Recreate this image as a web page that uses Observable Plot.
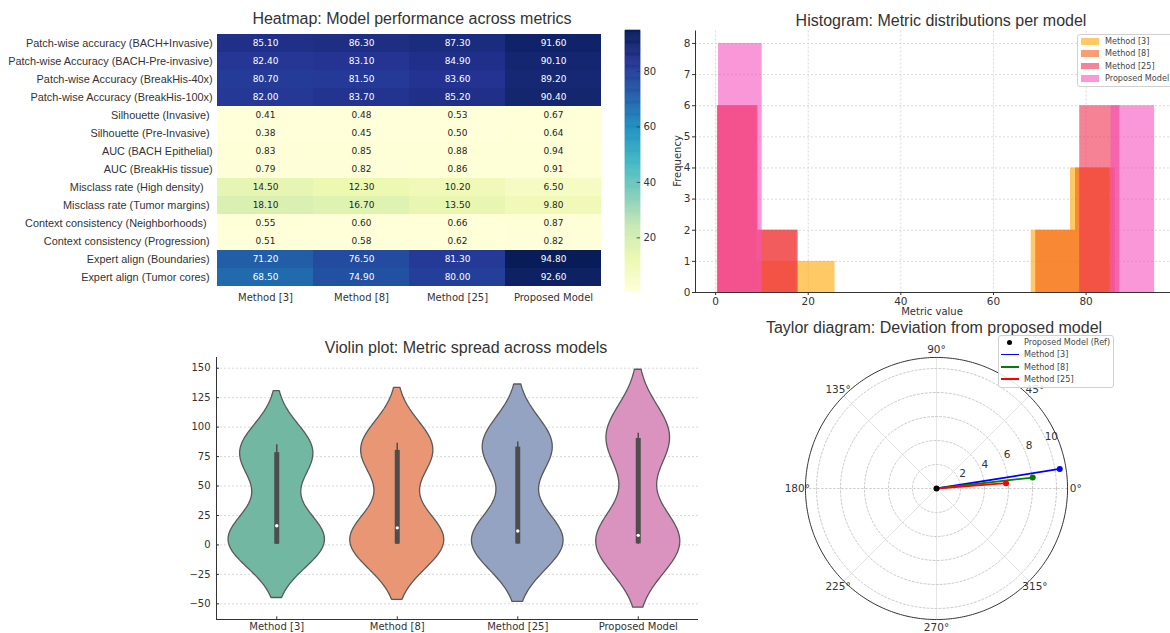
<!DOCTYPE html>
<html><head><meta charset="utf-8">
<script src="https://cdn.jsdelivr.net/npm/d3@7"></script>
<script src="https://cdn.jsdelivr.net/npm/@observablehq/plot@0.6"></script>
<style>
html,body{margin:0;padding:0;background:#fff;overflow:hidden;}
#root{position:relative;width:1170px;height:633px;overflow:hidden;font-family:"DejaVu Sans",sans-serif;}
.ttl{position:absolute;font-family:"Liberation Sans",Arial,sans-serif;font-size:16px;color:#333;white-space:nowrap;transform:translate(-50%,-50%);}
.lab{position:absolute;font-family:"DejaVu Sans",sans-serif;font-size:10px;color:#333;white-space:nowrap;transform:translate(-50%,-50%);}
svg text{white-space:pre;}
.legend{position:absolute;background:rgba(255,255,255,0.85);border:1px solid #d0d0d0;border-radius:3px;font-family:"DejaVu Sans",sans-serif;font-size:8.1px;color:#444;box-sizing:border-box;}
.row{position:relative;height:12.35px;line-height:12.35px;white-space:nowrap;}
.sw{position:absolute;}
.tx{position:absolute;}
</style></head><body><div id="root"></div>
<script>
// ---------------- data ----------------
const models = ["Method [3]", "Method [8]", "Method [25]", "Proposed Model"];
const metrics = [
  "Patch-wise accuracy (BACH+Invasive)",
  "Patch-wise Accuracy (BACH-Pre-invasive)",
  "Patch-wise Accuracy (BreakHis-40x)",
  "Patch-wise Accuracy (BreakHis-100x)",
  "Silhouette (Invasive) ",
  "Silhouette (Pre-Invasive) ",
  "AUC (BACH Epithelial)",
  "AUC (BreakHis tissue)",
  "Misclass rate (High density)   ",
  "Misclass rate (Tumor margins) ",
  "Context consistency (Neighborhoods)  ",
  "Context consistency (Progression) ",
  "Expert align (Boundaries) ",
  "Expert align (Tumor cores) "
];
const method3 = [85.10, 82.40, 80.70, 82.00, 0.41, 0.38, 0.83, 0.79, 14.50, 18.10, 0.55, 0.51, 71.20, 68.50];
const method8 = [86.30, 83.10, 81.50, 83.70, 0.48, 0.45, 0.85, 0.82, 12.30, 16.70, 0.60, 0.58, 76.50, 74.90];
const method25 = [87.30, 84.90, 83.60, 85.20, 0.53, 0.50, 0.88, 0.86, 10.20, 13.50, 0.66, 0.62, 81.30, 80.00];
const proposed = [91.60, 90.10, 89.20, 90.40, 0.67, 0.64, 0.94, 0.91, 6.50, 9.80, 0.87, 0.82, 94.80, 92.60];
const series = [method3, method8, method25, proposed];

const colorbarTicks = [20, 40, 60, 80];
const histXTicks = [0, 20, 40, 60, 80];
const histYTicks = [0, 1, 2, 3, 4, 5, 6, 7, 8];
const violinYTicks = [-50, -25, 0, 25, 50, 75, 100, 125, 150];

// Taylor diagram
const taylorMethods = ["Method [3]", "Method [8]", "Method [25]"];
const taylorR = [10.40, 8.07, 5.81];
const taylorThetaDeg = [9.0, 6.5, 4.35];
const taylorColors = ["#0000ff", "#008000", "#ff0000"];
const radialTicks = [2, 4, 6, 8, 10];
const angleTicks = [0, 45, 90, 135, 180, 225, 270, 315];

// styles
const ylgnbu = ["#ffffd9","#edf8b1","#c7e9b4","#7fcdbb","#41b6c4","#1d91c0","#225ea8","#253494","#081d58"];
const histColors = ["#FFA500", "#F55D14", "#EE304E", "#F552C0"];
const violinColors = ["#71b7a1", "#e99675", "#95a3c3", "#da93bf"];
const gridColor = "#cfcfcf";
const axisColor = "#333";

const root = document.getElementById("root");
function place(el, left, top) { el.style.position = "absolute"; el.style.left = left + "px"; el.style.top = top + "px"; root.appendChild(el); return el; }
function label(text, x, y, cls, rot) {
  const d = document.createElement("div"); d.className = cls; d.textContent = text;
  d.style.left = x + "px"; d.style.top = y + "px";
  if (rot) d.style.transform = "translate(-50%,-50%) rotate(" + rot + "deg)";
  root.appendChild(d); return d;
}
const baseStyle = {fontFamily: "DejaVu Sans", fontSize: "10px", color: axisColor, background: "transparent", overflow: "visible"};

// ---------------- heatmap ----------------
const cells = metrics.flatMap((m, r) => models.map((mod, c) => ({metric: m, model: mod, value: series[c][r]})));
const [vmin, vmax] = d3.extent(cells, d => d.value);
const stops = ylgnbu.map((_, i) => vmin + i * (vmax - vmin) / (ylgnbu.length - 1));
const colorOpts = {type: "linear", domain: stops, range: ylgnbu, interpolate: "rgb"};

const heat = Plot.plot({
  width: 606, height: 310,
  marginLeft: 215.7, marginRight: 4.3, marginTop: 29.3, marginBottom: 19.3,
  style: baseStyle,
  x: {domain: models, padding: 0, label: null, tickSize: 0, tickPadding: 3},
  y: {domain: metrics, padding: 0, label: null, tickSize: 0, tickPadding: 3.5},
  color: colorOpts,
  marks: [
    Plot.cell(cells, {x: "model", y: "metric", fill: "value", inset: 0}),
    Plot.text(cells.filter(d => d.value > 50), {x: "model", y: "metric", text: d => d.value.toFixed(2), fill: "white", fontSize: 9}),
    Plot.text(cells.filter(d => d.value <= 50), {x: "model", y: "metric", text: d => d.value.toFixed(2), fill: "#262626", fontSize: 9})
  ]
});
d3.select(heat).selectAll('[aria-label^="y-axis"] text')
  .style("font-family", '"Liberation Sans", Arial, sans-serif').style("font-size", "10.9px");
place(heat, 0, 0);

// colorbar
const nSl = 240;
const slices = d3.range(nSl).map(i => ({a: vmin + i * (vmax - vmin) / nSl, b: vmin + (i + 1) * (vmax - vmin) / nSl}));
const cbar = Plot.plot({
  width: 60, height: 310, marginLeft: 10, marginRight: 35, marginTop: 30, marginBottom: 18.3,
  style: baseStyle,
  x: {domain: [0, 1], axis: null},
  y: {domain: [vmin, vmax], axis: "right", ticks: colorbarTicks, tickSize: 0, tickPadding: 3, label: null},
  color: colorOpts,
  marks: [
    Plot.rect(slices, {x1: 0, x2: 1, y1: "a", y2: "b", fill: d => (d.a + d.b) / 2, stroke: d => (d.a + d.b) / 2, strokeWidth: 0.6, inset: 0}),
    Plot.ruleY(colorbarTicks, {x1: 0.78, x2: 1, stroke: axisColor, strokeWidth: 0.8})
  ]
});
place(cbar, 615, 0);
label("Heatmap: Model performance across metrics", 412, 18.5, "ttl");

// ---------------- histogram ----------------
const histXDomain = [-4.34, 99.52];
const histMarks = [
  Plot.ruleX(histXTicks, {stroke: gridColor, strokeDasharray: "2,2", strokeWidth: 0.8}),
  Plot.ruleY(histYTicks, {stroke: gridColor, strokeDasharray: "2,2", strokeWidth: 0.8})
];
series.forEach((vals, k) => {
  const [lo, hi] = d3.extent(vals);
  const th = d3.range(1, 10).map(i => lo + i * (hi - lo) / 10);
  const bins = d3.bin().domain([lo, hi]).thresholds(th)(vals);
  histMarks.push(Plot.rect(bins, {x1: b => b.x0, x2: b => b.x1, y1: 0, y2: b => b.length, fill: histColors[k], fillOpacity: 0.6, inset: 0}));
});
histMarks.push(Plot.ruleY([0], {stroke: axisColor, strokeWidth: 1}));
histMarks.push(Plot.ruleX([histXDomain[0]], {stroke: axisColor, strokeWidth: 1}));
const hist = Plot.plot({
  width: 516, height: 320, marginLeft: 35, marginRight: 0, marginTop: 30.5, marginBottom: 28,
  style: {...baseStyle, fontSize: "10.5px"},
  x: {domain: histXDomain, ticks: histXTicks, label: null, tickSize: 3, tickPadding: 2},
  y: {domain: [0, 8.4], ticks: histYTicks, label: null, tickSize: 3, tickPadding: 2},
  marks: histMarks
});
place(hist, 660, 0);
label("Histogram: Metric distributions per model", 941, 20.7, "ttl");
label("Metric value", 932, 311, "lab");
label("Frequency", 677, 161, "lab", -90);

// histogram legend
(function () {
  const lg = document.createElement("div"); lg.className = "legend";
  lg.style.left = "1077px"; lg.style.top = "34px"; lg.style.width = "110px"; lg.style.height = "53px";
  models.forEach((m, k) => {
    const r = document.createElement("div"); r.className = "row";
    const sw = document.createElement("div"); sw.className = "sw";
    sw.style.left = "3px"; sw.style.top = "3px"; sw.style.width = "18px"; sw.style.height = "6.5px";
    sw.style.background = histColors[k]; sw.style.opacity = 0.6;
    const t = document.createElement("div"); t.className = "tx"; t.style.left = "27px"; t.textContent = m;
    r.appendChild(sw); r.appendChild(t); lg.appendChild(r);
  });
  root.appendChild(lg);
})();

// ---------------- violin ----------------
function kde(vals) {
  const n = vals.length, sd = d3.deviation(vals);
  const bw = Math.pow(n, -1 / 5) * sd;
  const lo = d3.min(vals) - 2 * bw, hi = d3.max(vals) + 2 * bw;
  return d3.range(100).map(i => {
    const y = lo + i * (hi - lo) / 99;
    const d = d3.mean(vals, v => Math.exp(-0.5 * ((y - v) / bw) ** 2)) / (bw * Math.sqrt(2 * Math.PI));
    return {y, d};
  });
}
const kdes = series.map(kde);
const maxD = d3.max(kdes, k => d3.max(k, p => p.d));
const kScale = 0.4 / maxD;
const violinPts = kdes.flatMap((k, i) => k.map(p => ({model: models[i], y: p.y, xl: i - p.d * kScale, xr: i + p.d * kScale})));
const boxStats = series.map((vals, i) => {
  const s = [...vals].sort(d3.ascending);
  return {i, min: s[0], max: s[s.length - 1], q1: d3.quantileSorted(s, 0.25), q3: d3.quantileSorted(s, 0.75), med: d3.quantileSorted(s, 0.5)};
});
const vio = Plot.plot({
  width: 560, height: 293, marginLeft: 66, marginRight: 12, marginTop: 17, marginBottom: 14,
  style: {...baseStyle, fontSize: "10px"},
  x: {domain: [-0.5, 3.5], ticks: [0, 1, 2, 3], tickFormat: i => models[i], tickSize: 0, tickPadding: 3, label: null},
  y: {domain: [-63.3, 159.1], ticks: violinYTicks, tickFormat: d3.format("d"), tickSize: 0, tickPadding: 6, label: null},
  color: {domain: models, range: violinColors},
  marks: [
    Plot.ruleY(violinYTicks, {stroke: gridColor, strokeDasharray: "2,2", strokeWidth: 0.8}),
    Plot.areaX(violinPts, {y: "y", x1: "xl", x2: "xr", z: "model", fill: "model", stroke: "#595959", strokeWidth: 1.3}),
    Plot.ruleX(boxStats, {x: "i", y1: "min", y2: "max", stroke: "#4d4d4d", strokeWidth: 1.5}),
    Plot.ruleX(boxStats, {x: "i", y1: "q1", y2: "q3", stroke: "#4d4d4d", strokeWidth: 5}),
    Plot.dot(boxStats, {x: "i", y: "med", fill: "white", r: 1.7}),
    Plot.ruleX([-0.5], {stroke: axisColor, strokeWidth: 1}),
    Plot.ruleY([-63.3], {stroke: axisColor, strokeWidth: 1}),
    Plot.ruleY(violinYTicks, {x1: -0.5, x2: -0.475, stroke: axisColor}),
    Plot.ruleX([0, 1, 2, 3], {y1: -63.3, y2: -61, stroke: axisColor})
  ]
});
place(vio, 150, 340);
label("Violin plot: Metric spread across models", 466, 348, "ttl");

// ---------------- Taylor (polar) ----------------
const rmax = 10.92;
const rad = a => a * Math.PI / 180;
const circlePts = radialTicks.flatMap(r => d3.range(0, 361, 2).map(a => ({r, x: r * Math.cos(rad(a)), y: r * Math.sin(rad(a))})));
const outerPts = d3.range(0, 361, 1).map(a => ({x: rmax * Math.cos(rad(a)), y: rmax * Math.sin(rad(a))}));
const taylorPts = taylorMethods.map((m, i) => ({m, c: taylorColors[i], x: taylorR[i] * Math.cos(rad(taylorThetaDeg[i])), y: taylorR[i] * Math.sin(rad(taylorThetaDeg[i]))}));
const tay = Plot.plot({
  width: 312, height: 312, margin: 0,
  style: {...baseStyle, fontSize: "10.5px"},
  x: {domain: [-13, 13], axis: null},
  y: {domain: [-13, 13], axis: null},
  marks: [
    Plot.link(angleTicks.filter(a => a % 180 !== 0), {x1: 0, y1: 0, x2: a => rmax * Math.cos(rad(a)), y2: a => rmax * Math.sin(rad(a)), stroke: "#e2e2e2", strokeWidth: 0.9}),
    Plot.link([0], {x1: -rmax, y1: 0, x2: rmax, y2: 0, stroke: "#bdbdbd", strokeDasharray: "2,2", strokeWidth: 0.9}),
    Plot.line(circlePts, {x: "x", y: "y", z: "r", stroke: "#c4c4c4", strokeDasharray: "2,2", strokeWidth: 0.9}),
    Plot.line(outerPts, {x: "x", y: "y", stroke: "#333", strokeWidth: 1}),
    Plot.text(radialTicks, {x: r => r * Math.cos(rad(22.5)), y: r => r * Math.sin(rad(22.5)), text: r => String(r), dx: 4, dy: -6, fill: axisColor}),
    Plot.text(angleTicks, {x: a => 11.6 * Math.cos(rad(a)), y: a => 11.6 * Math.sin(rad(a)), text: a => a + "°", fill: axisColor}),
    Plot.link(taylorPts, {x1: 0, y1: 0, x2: "x", y2: "y", stroke: "c", strokeWidth: 1.8}),
    Plot.dot(taylorPts, {x: "x", y: "y", fill: "c", r: 3}),
    Plot.dot([0], {x: 0, y: 0, fill: "black", r: 3})
  ]
});
place(tay, 935.7 - 156, 488.3 - 156);
label("Taylor diagram: Deviation from proposed model", 934, 328.3, "ttl");

// Taylor legend
(function () {
  const lg = document.createElement("div"); lg.className = "legend";
  lg.style.left = "998px"; lg.style.top = "335px"; lg.style.width = "116px"; lg.style.height = "52.5px";
  const items = [{t: "Proposed Model (Ref)", c: "black", dot: true}].concat(taylorMethods.map((m, i) => ({t: m, c: taylorColors[i]})));
  items.forEach(it => {
    const r = document.createElement("div"); r.className = "row";
    const sw = document.createElement("div"); sw.className = "sw";
    if (it.dot) { sw.style.left = "8px"; sw.style.top = "3.6px"; sw.style.width = "5px"; sw.style.height = "5px"; sw.style.borderRadius = "50%"; }
    else { sw.style.left = "2px"; sw.style.top = "5.3px"; sw.style.width = "18px"; sw.style.height = "1.8px"; }
    sw.style.background = it.c;
    const t = document.createElement("div"); t.className = "tx"; t.style.left = "25px"; t.textContent = it.t;
    r.appendChild(sw); r.appendChild(t); lg.appendChild(r);
  });
  root.appendChild(lg);
})();
</script></body></html>
